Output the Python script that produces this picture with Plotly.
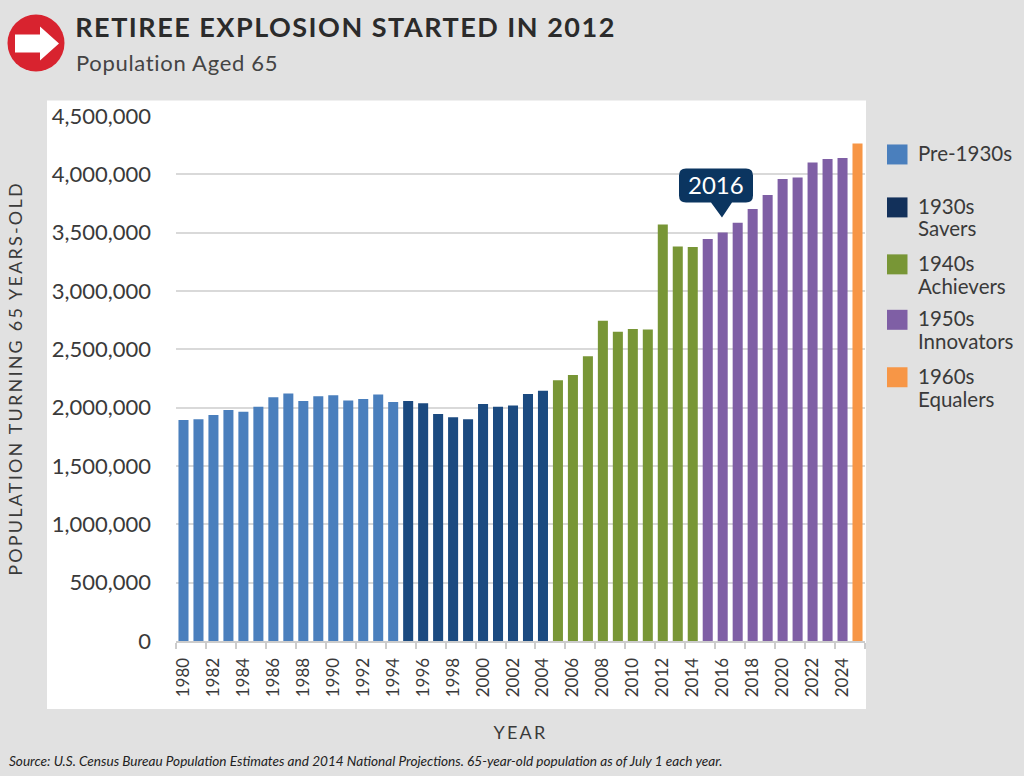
import plotly.graph_objects as go

years = [str(y) for y in range(1980, 2026)]
population = [1895000, 1900000, 1938000, 1981000, 1964000, 2007000, 2090000, 2121000, 2058000, 2098000,
              2107000, 2061000, 2075000, 2112000, 2049000, 2058000, 2038000, 1946000, 1918000, 1901000,
              2032000, 2007000, 2018000, 2118000, 2144000, 2235000, 2280000, 2440000, 2745000, 2650000,
              2675000, 2670000, 3571000, 3382000, 3377000, 3445000, 3502000, 3585000, 3702000, 3822000,
              3959000, 3973000, 4102000, 4131000, 4139000, 4265000]
generations = ["Pre-1930s", "1930s<br>Savers", "1940s<br>Achievers", "1950s<br>Innovators", "1960s<br>Equalers"]
generation_counts = [15, 10, 10, 10, 1]
bar_colors = ["#4a7fbd", "#1b4a80", "#789636", "#7f5fa5", "#f79646"]
swatch_colors = ["#4a7fbd", "#12305a", "#789636", "#7f5fa5", "#f79646"]
y_ticks = [0, 500000, 1000000, 1500000, 2000000, 2500000, 3000000, 3500000, 4000000, 4500000]
title = "RETIREE EXPLOSION STARTED IN 2012"
subtitle = "Population Aged 65"
source = "Source: U.S. Census Bureau Population Estimates and 2014 National Projections. 65-year-old population as of July 1 each year."

W, H = 1024, 776
L, R, T, B = 176, 865, 115.5, 641
FONT = "Lato"
TEXT = "#3a3a3a"

def px(x):
    return (x - L) / (R - L)

def py(y):
    return (B - y) / (B - T)

def poly(points):
    return "M " + " L ".join(f"{px(x):.5f},{py(y):.5f}" for x, y in points) + " Z"

fig = go.Figure()
start = 0
for name, count, color in zip(generations, generation_counts, bar_colors):
    end = start + count
    fig.add_bar(x=years[start:end], y=population[start:end], name=name.replace("<br>", " "),
                marker=dict(color=color, line=dict(width=0)), showlegend=False)
    start = end

shapes = [
    dict(type="rect", xref="paper", yref="paper", x0=px(47), x1=px(866), y0=py(709), y1=py(100),
         fillcolor="white", line=dict(width=0), layer="below"),
    dict(type="circle", xref="paper", yref="paper", x0=px(7.5), x1=px(64.5), y0=py(71), y1=py(14),
         fillcolor="#d8232f", line=dict(width=0)),
    dict(type="path", xref="paper", yref="paper",
         path=poly([(15, 34), (40, 34), (40, 26), (59, 43), (40, 60), (40, 52), (15, 52)]),
         fillcolor="white", line=dict(width=0)),
]

# callout
x0, x1, y0, y1, r = 679, 753, 168, 202, 7
callout = (f"M {px(x0 + r):.5f},{py(y0):.5f} L {px(x1 - r):.5f},{py(y0):.5f} "
           f"Q {px(x1):.5f},{py(y0):.5f} {px(x1):.5f},{py(y0 + r):.5f} "
           f"L {px(x1):.5f},{py(y1 - r):.5f} Q {px(x1):.5f},{py(y1):.5f} {px(x1 - r):.5f},{py(y1):.5f} "
           f"L {px(732):.5f},{py(y1):.5f} L {px(722):.5f},{py(217):.5f} L {px(711):.5f},{py(y1):.5f} "
           f"L {px(x0 + r):.5f},{py(y1):.5f} Q {px(x0):.5f},{py(y1):.5f} {px(x0):.5f},{py(y1 - r):.5f} "
           f"L {px(x0):.5f},{py(y0 + r):.5f} Q {px(x0):.5f},{py(y0):.5f} {px(x0 + r):.5f},{py(y0):.5f} Z")
shapes.append(dict(type="path", xref="paper", yref="paper", path=callout, fillcolor="#0b3560", line=dict(width=0)))

annotations = [
    dict(text=f"<b>{title}</b>", x=px(99), y=py(26), xanchor="left", yanchor="middle",
         font=dict(size=27, color="#2b2b2b", family=FONT)),
    dict(text=subtitle, x=px(81), y=py(62), xanchor="left", yanchor="middle",
         font=dict(size=22, color="#444444", family=FONT)),
    dict(text="2016", x=px(716), y=py(184), xanchor="center", yanchor="middle",
         font=dict(size=24, color="white", family=FONT)),
    dict(text=f"<i>{source}</i>", x=px(8), y=py(761), xanchor="left", yanchor="middle",
         font=dict(size=13.6, color="#222222", family=FONT)),
]

swatch_tops = [144, 197, 254, 309.5, 367]
label_centers = [[153], [206, 228], [263, 286], [318, 341], [376, 399]]
for name, color, top, centers in zip(generations, swatch_colors, swatch_tops, label_centers):
    shapes.append(dict(type="rect", xref="paper", yref="paper", x0=px(887), x1=px(907.5), y0=py(top + 20), y1=py(top),
                       fillcolor=color, line=dict(width=0)))
    for line, center in zip(name.split("<br>"), centers):
        annotations.append(dict(text=line, x=px(917), y=py(center), xanchor="left", yanchor="middle", align="left",
                                font=dict(size=20.5, color=TEXT, family=FONT)))

for a in annotations:
    a.update(xref="paper", yref="paper", showarrow=False, borderpad=0)

fig.update_layout(
    width=W, height=H, margin=dict(l=L, r=W - R, t=T, b=H - B),
    paper_bgcolor="#e1e1e1", plot_bgcolor="white", bargap=0.33, barmode="overlay",
    shapes=shapes, annotations=annotations, showlegend=False,
    font=dict(family=FONT, color=TEXT),
)
fig.update_xaxes(
    type="category", categoryorder="array", categoryarray=years, dtick=2, tickson="boundaries",
    ticks="outside", ticklen=6, tickcolor="#cccccc", tickwidth=1.5, tickangle=-90, ticklabelstandoff=8,
    tickfont=dict(size=17, color=TEXT, family=FONT), showgrid=False,
    showline=True, linecolor="#cccccc", linewidth=2, automargin=False,
    title=dict(text="YEAR", standoff=30, font=dict(size=18, color=TEXT, family=FONT)),
)
fig.update_yaxes(
    range=[0, 4500000], tickvals=y_ticks, tickformat=",d", showgrid=True, gridcolor="#d9d9d9", gridwidth=2,
    zeroline=False, ticks="", ticklabelstandoff=24, automargin=False,
    tickfont=dict(size=22, color=TEXT, family=FONT),
    title=dict(text="POPULATION TURNING 65 YEARS-OLD", standoff=24, font=dict(size=18, color=TEXT, family=FONT)),
)

post = """
document.body.style.margin = '0';
document.body.style.background = '#e1e1e1';
var gd = document.getElementById('{plot_id}');
function spacing() {
  gd.querySelectorAll('.ytitle, .xtitle').forEach(function (e) { e.style.letterSpacing = '2.2px'; });
  gd.querySelectorAll('.annotation-text').forEach(function (e) {
    var t = e.textContent;
    if (t.indexOf('RETIREE') === 0) e.style.letterSpacing = '1.5px';
    if (t.indexOf('Population') === 0) e.style.letterSpacing = '0.7px';
  });
}
spacing();
"""
fig.write_html("out.html", post_script=post, config=dict(displayModeBar=False))
